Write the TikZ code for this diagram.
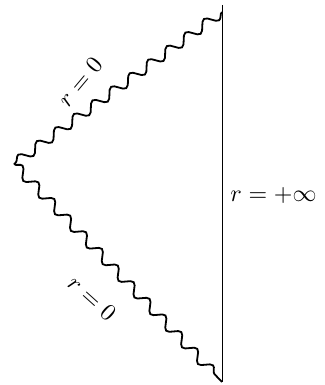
\documentclass[tikz,border=0pt]{standalone}
\usetikzlibrary{decorations.pathmorphing}
\begin{document}
\begin{tikzpicture}[x=1pt,y=1pt,
  singular/.style={line width=1.8pt,decorate,decoration={snake,segment length=23pt,amplitude=5pt}},
  boundary/.style={line width=1pt},
  lbl/.style={inner sep=0pt,scale=2.4}]
\useasboundingbox (0,0) rectangle (324,385);
\coordinate (top) at (222,373);
\coordinate (vtop) at (222,380);
\coordinate (apex) at (14,221);
\coordinate (bot) at (222,3);
\draw[boundary] (vtop) -- (bot);
\draw[singular] (top) -- (apex);
\draw[singular] (apex) -- (bot);
\node[lbl,rotate=50] (l1) at (80,303) {$r=0$};
\node[lbl,rotate=-42] (l2) at (92,87) {$r=0$};
\node[lbl,anchor=west] (l3) at (230,189) {$r=+\infty$};
\end{tikzpicture}
\end{document}
